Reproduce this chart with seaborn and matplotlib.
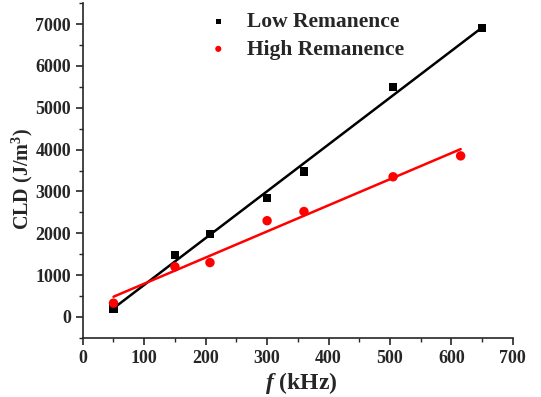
import numpy as np
import pandas as pd
import matplotlib
matplotlib.use("Agg")
import matplotlib.pyplot as plt
import seaborn as sns
from matplotlib.ticker import MultipleLocator

# Frequency (kHz) and cumulative loss density (J/m^3) for the two samples
freq_low = [50, 150, 207, 300, 360, 505, 650]
cld_low = [200, 1480, 1980, 2850, 3480, 5500, 6900]
freq_high = [50, 150, 207, 300, 360, 505, 615]
cld_high = [330, 1200, 1300, 2300, 2520, 3350, 3850]
series_names = ["Low Remanence", "High Remanence"]

sns.set_style("ticks")
plt.rcParams["font.family"] = ["Liberation Serif", "DejaVu Serif"]
plt.rcParams["font.weight"] = "bold"
plt.rcParams["mathtext.fontset"] = "custom"
plt.rcParams["mathtext.rm"] = "Liberation Serif:bold"
plt.rcParams["mathtext.it"] = "Liberation Serif:italic:bold"
plt.rcParams["mathtext.bf"] = "Liberation Serif:bold"

df = pd.concat([
    pd.DataFrame({"f": freq_low, "CLD": cld_low, "sample": series_names[0]}),
    pd.DataFrame({"f": freq_high, "CLD": cld_high, "sample": series_names[1]}),
])

fig = plt.figure(figsize=(5.41, 3.97), dpi=100)
ax = fig.add_axes([0.153, 0.149, 0.795, 0.843])

colors = {series_names[0]: "black", series_names[1]: "red"}
markers = {series_names[0]: "s", series_names[1]: "o"}
sizes = {series_names[0]: 36, series_names[1]: 46}

for name in series_names:
    sub = df[df["sample"] == name]
    sns.scatterplot(data=sub, x="f", y="CLD", ax=ax, color=colors[name],
                    marker=markers[name], s=sizes[name], edgecolor="none",
                    label=name, zorder=3)
    # least-squares linear fit across the measured range
    k, b = np.polyfit(sub["f"], sub["CLD"], 1)
    xs = np.array([sub["f"].min(), sub["f"].max()])
    sns.lineplot(x=xs, y=k * xs + b, ax=ax, color=colors[name], lw=1.8,
                 legend=False, zorder=2)

ax.set_xlim(0, 700)
ax.set_ylim(-500, 7500)
ax.xaxis.set_major_locator(MultipleLocator(100))
ax.xaxis.set_minor_locator(MultipleLocator(50))
ax.yaxis.set_major_locator(MultipleLocator(1000))
ax.yaxis.set_minor_locator(MultipleLocator(500))
ax.tick_params(which="major", direction="out", length=5, width=1.2,
               labelsize=13, pad=3.5)
ax.tick_params(which="minor", direction="out", length=3, width=1.0)
for lbl in ax.get_xticklabels() + ax.get_yticklabels():
    lbl.set_fontweight("bold")

for side in ["top", "right"]:
    ax.spines[side].set_visible(False)
for side in ["left", "bottom"]:
    ax.spines[side].set_linewidth(1.2)

ax.set_xlabel("$f$ (kHz)", fontsize=17, fontweight="bold")
ax.xaxis.set_label_coords(0.507, -0.095)
ax.set_ylabel("CLD (J/m$^{3}$)", fontsize=14.5, fontweight="bold")
ax.yaxis.set_label_coords(-0.112, 0.475)

leg = ax.legend(loc="upper left", bbox_to_anchor=(0.22, 1.032), frameon=False,
                prop={"weight": "bold", "size": 15.5}, handletextpad=0.35,
                labelspacing=0.35, markerscale=0.65)

fig.savefig("out.png", dpi=100)
